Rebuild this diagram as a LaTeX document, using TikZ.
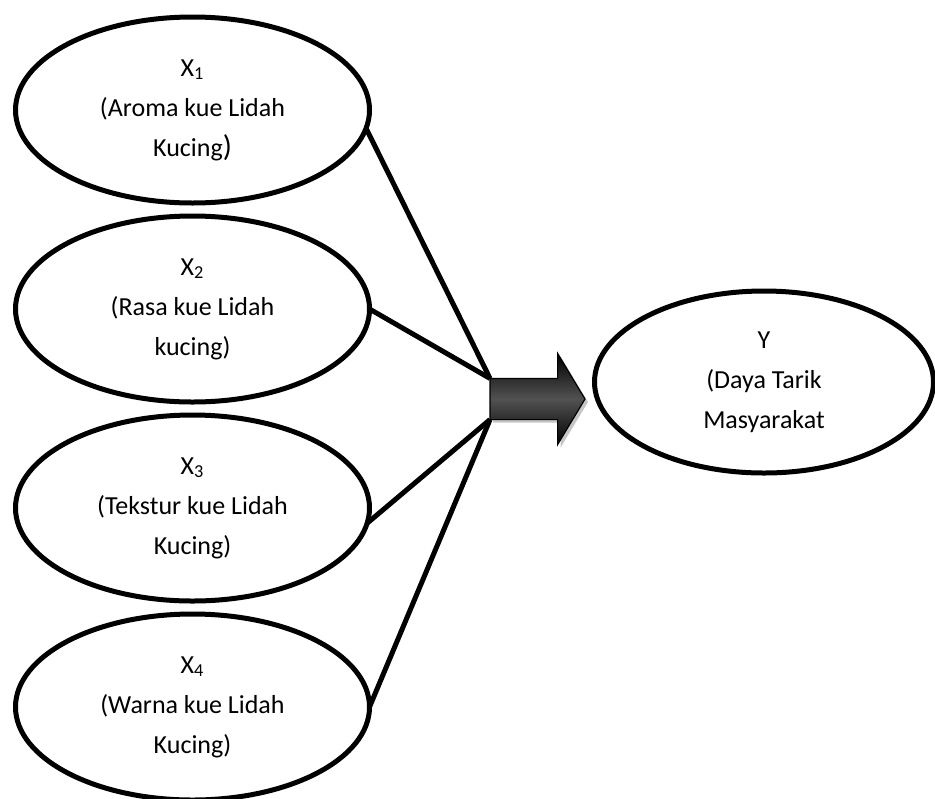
\documentclass[tikz,border=0pt]{standalone}
\usepackage{fontspec}
\setmainfont{Carlito}
\usepackage{tikz}
\usetikzlibrary{positioning,shapes.geometric,shapes.arrows,shadows}
\tikzset{
  variabel/.style={
    ellipse,
    draw=black,
    line width=2.5pt,
    fill=white,
    align=center,
    inner sep=0pt,
    outer sep=0pt,
    minimum width=177pt,
    minimum height=93pt,
    font=\fontsize{13}{20}\selectfont
  },
  panah/.style={
    single arrow,
    draw=black,
    line width=.6pt,
    top color=black,
    bottom color=black,
    middle color=black!68,
    inner xsep=0pt,
    inner ysep=10pt,
    outer sep=0pt,
    minimum height=47.5pt,
    single arrow head extend=12.5pt,
    single arrow tip angle=118,
    single arrow head indent=0pt,
    drop shadow={shadow xshift=1.5pt,shadow yshift=-1.5pt,opacity=.45}
  },
  garis/.style={
    line width=2.5pt,
    black
  }
}
\begin{document}
\begin{tikzpicture}[node distance=6.5pt]
\useasboundingbox (0,0) rectangle (467.5pt,-399pt);
\node[variabel] (x1) at (96.25pt,-55pt) {X\textsubscript{1}\\(Aroma kue Lidah\\Kucing{\fontsize{15}{20}\selectfont)}};
\node[variabel,below=of x1] (x2) {X\textsubscript{2}\\(Rasa kue Lidah\\kucing)};
\node[variabel,below=of x2] (x3) {X\textsubscript{3}\\(Tekstur kue Lidah\\Kucing)};
\node[variabel,below=of x3] (x4) {X\textsubscript{4}\\(Warna kue Lidah\\Kucing)};
\node[variabel,minimum width=169.5pt,minimum height=91pt] (y) at (382pt,-191pt) {Y\\(Daya Tarik\\Masyarakat};
\node[panah,anchor=tail] (p) at (245pt,-199.5pt) {};
\draw[garis] (x1.-6) -- (p.after tail);
\draw[garis] (x2.east) -- (p.after tail);
\draw[garis] (x3.-5) -- (p.before tail);
\draw[garis] (x4.east) -- (p.before tail);
\end{tikzpicture}
\end{document}
